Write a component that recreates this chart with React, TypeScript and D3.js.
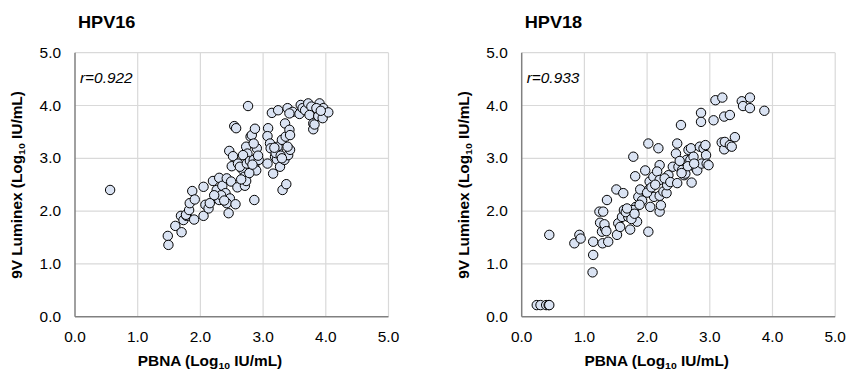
import * as d3 from 'd3'

const W = 847, H = 372
const FONT = '"Liberation Sans", Arial, sans-serif'

// axis ticks (log10 IU/mL) shared by both panels
const tickVals = [0, 1, 2, 3, 4, 5]

// HPV16: [PBNA, 9V Luminex]
const hpv16: [number, number][] = [
  [0.56, 2.40],
  [1.48, 1.53], [1.49, 1.36], [1.60, 1.72], [1.70, 1.60], [1.69, 1.91], [1.73, 1.83], [1.78, 1.91],
  [1.77, 1.93], [1.82, 2.02], [1.83, 2.15], [1.87, 2.38], [1.91, 2.22], [1.90, 1.84],
  [2.05, 1.91], [2.05, 2.46], [2.08, 2.12], [2.13, 2.05], [2.20, 2.57], [2.30, 2.63], [2.26, 2.40],
  [2.26, 2.24], [2.30, 2.21], [2.35, 2.48], [2.42, 2.62], [2.49, 2.56], [2.40, 2.34], [2.47, 2.24],
  [2.42, 2.15], [2.45, 1.96], [2.56, 2.13], [2.59, 2.45], [2.33, 2.30], [2.38, 2.20], [2.22, 2.30],
  [2.15, 2.15],
  [2.46, 3.14], [2.52, 3.04], [2.50, 2.85], [2.54, 3.61], [2.57, 3.57], [2.60, 2.90], [2.67, 2.79],
  [2.70, 2.65], [2.71, 2.48], [2.73, 2.57], [2.76, 3.99], [2.73, 3.22], [2.75, 3.09], [2.80, 3.41],
  [2.82, 3.44], [2.87, 3.56], [2.63, 2.84], [2.68, 3.06], [2.74, 2.90], [2.79, 2.95], [2.85, 2.97],
  [2.86, 2.84], [2.89, 2.77], [2.93, 2.97], [2.90, 3.19], [2.85, 3.28], [2.86, 2.21], [2.78, 2.72],
  [2.83, 2.88], [2.92, 3.05], [2.65, 2.60],
  [3.08, 3.57], [3.07, 3.42], [3.11, 3.28], [3.12, 3.19], [3.07, 2.90], [3.16, 2.71], [3.19, 3.03],
  [3.22, 2.98], [3.14, 3.86], [3.24, 3.91], [3.24, 3.13], [3.23, 3.22], [3.27, 2.84], [3.30, 3.35],
  [3.31, 2.40], [3.34, 2.97], [3.35, 3.66], [3.36, 3.41], [3.37, 2.51], [3.39, 3.95], [3.40, 3.06],
  [3.42, 3.54], [3.43, 3.44], [3.43, 3.16], [3.39, 3.22], [3.47, 3.88], [3.42, 3.85], [3.20, 3.10],
  [3.28, 3.05], [3.18, 3.20], [3.30, 3.00],
  [3.58, 3.84], [3.60, 4.01], [3.63, 3.95], [3.67, 3.91], [3.72, 4.04], [3.77, 3.98], [3.74, 3.82],
  [3.80, 3.66], [3.80, 3.55], [3.82, 3.64], [3.88, 3.80], [3.90, 4.04], [3.95, 3.76], [3.96, 3.95],
  [4.04, 3.87], [3.85, 3.95], [3.92, 3.90],
]

// HPV18: [PBNA, 9V Luminex]
const hpv18: [number, number][] = [
  [0.24, 0.22], [0.30, 0.22], [0.39, 0.22], [0.43, 0.22], [0.44, 0.22],
  [0.44, 1.55], [0.84, 1.39], [0.92, 1.55], [0.94, 1.48],
  [1.14, 1.42], [1.14, 1.17], [1.13, 0.84], [1.24, 1.99], [1.25, 1.78], [1.28, 1.61], [1.30, 1.99],
  [1.33, 1.67], [1.29, 1.39], [1.38, 1.42], [1.36, 2.21], [1.32, 1.75], [1.35, 1.62],
  [1.51, 2.41], [1.52, 1.55], [1.54, 1.77], [1.60, 1.89], [1.62, 2.34], [1.63, 2.02], [1.70, 1.89],
  [1.73, 1.65], [1.78, 3.03], [1.81, 2.66], [1.84, 1.80], [1.86, 2.27], [1.89, 2.41], [1.82, 2.08],
  [1.78, 2.02], [1.57, 1.70], [1.66, 1.98], [1.68, 2.05], [1.75, 1.85], [1.80, 1.95], [1.92, 2.20],
  [1.88, 2.12],
  [1.97, 2.77], [2.02, 3.28], [2.02, 1.61], [2.04, 2.56], [2.03, 2.41], [2.05, 2.08], [2.10, 2.65],
  [2.11, 2.27], [2.18, 3.19], [2.20, 2.87], [2.16, 2.75], [2.20, 2.59], [2.20, 2.29], [2.20, 1.99],
  [2.22, 2.11], [2.26, 2.37], [2.31, 2.34], [2.34, 2.68], [2.32, 2.49], [2.00, 2.35], [2.07, 2.45],
  [2.13, 2.50], [2.28, 2.62], [2.37, 2.55],
  [2.41, 2.84], [2.46, 3.09], [2.48, 3.28], [2.48, 2.53], [2.50, 2.84], [2.54, 3.63], [2.56, 2.78],
  [2.59, 2.68], [2.61, 2.71], [2.63, 2.97], [2.66, 3.16], [2.70, 3.19], [2.71, 2.54], [2.69, 2.97],
  [2.74, 3.03], [2.78, 2.81], [2.80, 2.77], [2.84, 3.22], [2.86, 3.86], [2.86, 3.69], [2.87, 2.90],
  [2.90, 3.19], [2.93, 3.25], [2.94, 3.06], [2.95, 2.90], [2.98, 2.87], [2.55, 2.72], [2.65, 2.85],
  [2.75, 2.90], [2.52, 2.95],
  [3.06, 3.72], [3.09, 4.10], [3.20, 4.15], [3.19, 3.30], [3.23, 3.79], [3.23, 3.17], [3.24, 3.31],
  [3.32, 3.82], [3.32, 3.25], [3.35, 3.22], [3.40, 3.40], [3.51, 4.08], [3.53, 3.99], [3.64, 4.15],
  [3.64, 3.95], [3.87, 3.90],
]

const panels = [
  { title: 'HPV16', r: 'r=0.922', data: hpv16, left: 75 },
  { title: 'HPV18', r: 'r=0.933', data: hpv18, left: 521.7 },
]

const PW = 313.5 // plot width
const TOP = 52.7, BOTTOM = 316.7
const SX = 1.1 // fonts in the source render a bit wider than Arial

function Txt({ x, y, rot = 0, size, weight = 'normal', italic = false, anchor = 'start', children }: any) {
  return (
    <text transform={`translate(${x},${y}) rotate(${rot}) scale(${SX},1)`} fontSize={size} fontWeight={weight}
      fontStyle={italic ? 'italic' : 'normal'} textAnchor={anchor} fill="#000" fontFamily={FONT}>
      {children}
    </text>
  )
}

function Unit({ size }: { size: number }) {
  return (
    <>
      <tspan>(Log</tspan>
      <tspan fontSize={size * 0.68} dy={3}>10</tspan>
      <tspan dy={-3}> IU/mL)</tspan>
    </>
  )
}

function Panel({ title, r, data, left }: { title: string, r: string, data: [number, number][], left: number }) {
  const x = d3.scaleLinear().domain([0, 5]).range([left, left + PW])
  const y = d3.scaleLinear().domain([0, 5]).range([BOTTOM, TOP])
  return (
    <g>
      {/* grid */}
      {tickVals.slice(1).map((t) => (
        <line key={'gx' + t} x1={x(t)} x2={x(t)} y1={TOP} y2={BOTTOM} stroke="#d9d9d9" strokeWidth={1.2} />
      ))}
      {tickVals.slice(1).map((t) => (
        <line key={'gy' + t} x1={left} x2={left + PW} y1={y(t)} y2={y(t)} stroke="#d9d9d9" strokeWidth={1.2} />
      ))}
      {/* axes */}
      <line x1={left} x2={left} y1={TOP} y2={BOTTOM} stroke="#808080" strokeWidth={1.5} />
      <line x1={left} x2={left + PW} y1={BOTTOM} y2={BOTTOM} stroke="#808080" strokeWidth={1.5} />

      {tickVals.map((t) => (
        <Txt key={'ty' + t} x={left - 14} y={y(t) + 5} size={14} anchor="end">{t.toFixed(1)}</Txt>
      ))}
      {tickVals.map((t) => (
        <Txt key={'tx' + t} x={x(t)} y={342} size={14} anchor="middle">{t.toFixed(1)}</Txt>
      ))}

      {data.map(([a, b], i) => (
        <circle key={i} cx={x(a)} cy={y(b)} r={4.7} fill="#dae3f3" stroke="#000" strokeWidth={1} />
      ))}

      <Txt x={left + 5} y={83.3} size={14} italic>{r}</Txt>
      <Txt x={left + 3} y={28.3} size={16.5} weight="bold">{title}</Txt>
      <Txt x={left + 135} y={365.5} size={14} weight="bold" anchor="middle">
        <tspan>PBNA </tspan><Unit size={14} />
      </Txt>
      <Txt x={left - 53} y={185} rot={-90} size={14} weight="bold" anchor="middle">
        <tspan>9V Luminex </tspan><Unit size={14} />
      </Txt>
    </g>
  )
}

export default function App() {
  return (
    <div style={{ position: 'absolute', left: 0, top: 0 }}>
      <svg width={W} height={H} viewBox={`0 0 ${W} ${H}`} style={{ display: 'block', background: '#fff' }}>
        {panels.map((p) => <Panel key={p.title} {...p} />)}
      </svg>
    </div>
  )
}
